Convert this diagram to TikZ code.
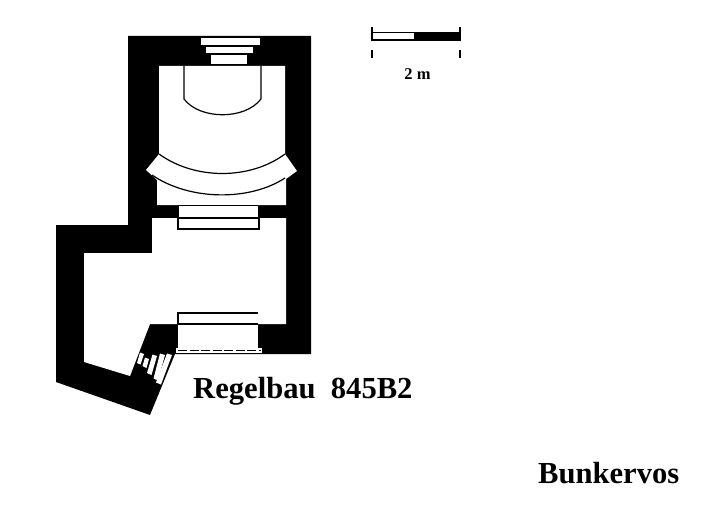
\documentclass[tikz,border=0pt]{standalone}
\usepackage{fontspec}
\setmainfont{Liberation Serif}
\begin{document}
\begin{tikzpicture}[x=1pt,y=-1pt,wall/.style={fill=black,draw=none},room/.style={fill=white,draw=none},edge line/.style={draw=black,line width=1.2pt},tick line/.style={draw=black,line width=1.6pt},title/.style={font=\bfseries\fontsize{30.6}{31}\selectfont,anchor=base west,inner sep=0pt}]
            \useasboundingbox (0,0) rectangle (720,508);
            \fill[wall] (128,36) -- (311,36) -- (311,354) -- (175,354) -- (150,415) -- (56,382) -- (56,225) -- (128,225) -- cycle;

            \fill[room] (201,38) rectangle (260,45);
            \fill[room] (206,47) rectangle (253,53);
            \fill[room] (211,55) rectangle (247,64);

            \fill[room] (159,66) -- (285,66) -- (285,154) -- (297,171) -- (286,179) -- (286,205) -- (157,205) -- (157,180) -- (146,170) -- (159,154) -- cycle;
            \fill[room] (179,205) rectangle (258,218);
            \fill[room] (152,218) -- (286,218) -- (286,324) -- (150,324) -- (130,376) -- (84,362) -- (84,253) -- (152,253) -- cycle;
            \fill[room] (178,324) rectangle (258,348);
            \fill[room] (176,348) rectangle (262,353);
            \draw[line width=1pt,dash pattern=on 9pt off 2.5pt] (178,350.5) -- (261,350.5);

            \draw[edge line] (184,66) -- (184,99) .. controls (200,120) and (245,120) .. (261,99) -- (261,66);
            \draw[edge line] (159,154) .. controls (195,180) and (250,180) .. (285,154);
            \draw[edge line] (152,175) .. controls (190,201) and (250,201) .. (285,178);
            \draw[edge line] (179,205.5) -- (258,205.5);
            \draw[edge line] (178,218) rectangle (259,229);
            \draw[edge line] (258,313) -- (178,313) -- (178,324) -- (258,324);

            \fill[room] (140,352.5) -- (144,354) -- (140.5,364.5) -- (137,363) -- cycle;
            \fill[room] (145,357.5) -- (149,359) -- (146.5,368) -- (142.5,366) -- cycle;
            \fill[room] (152.5,354.5) -- (157,356) -- (151.5,375) -- (147,373) -- cycle;
            \fill[room] (160,353.5) -- (165,355) -- (158,380.5) -- (153.5,378.5) -- cycle;
            \fill[room] (167,353.5) -- (172,355) -- (161,384.5) -- (156,382.5) -- cycle;

            \fill[wall] (415,32) rectangle (460,41);
            \draw[edge line] (372,32.5) rectangle (415,40);
            \draw[tick line] (372,27) -- (372,41);
            \draw[tick line] (460,27) -- (460,41);
            \draw[tick line] (372,50) -- (372,58);
            \draw[tick line] (460,50) -- (460,58);

            \node[font=\bfseries\fontsize{16.5}{17}\selectfont,inner sep=0pt] (scale label) at (417.5,74) {2 m};
            \node[title] (plan label) at (193,398) {Regelbau\ \ 845B2};
            \node[title] (site label) at (538,483) {Bunkervos};
         \end{tikzpicture}
\end{document}
